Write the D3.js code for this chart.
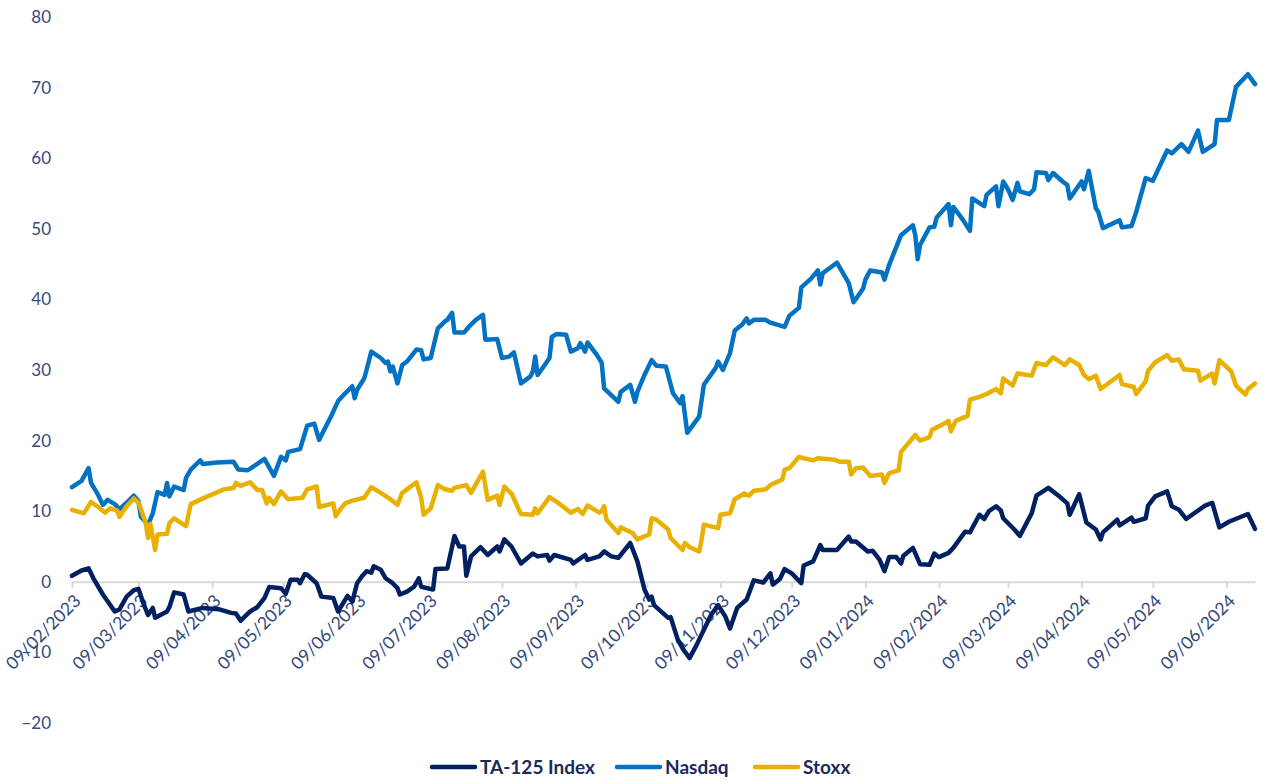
<!DOCTYPE html>
<html><head><meta charset="utf-8">
<script src="https://cdn.jsdelivr.net/npm/d3@7"></script>
<style>
body{margin:0;background:#fff}
svg{display:block}
text{font-family:Lato,"Noto Sans",sans-serif}
</style>
</head><body>
<svg id="chart" width="1262" height="780"></svg>
<script>
// ---------------- DATA ----------------
const seriesNames = ["TA-125 Index", "Nasdaq", "Stoxx"];

const xTickLabels = ["09/02/2023","09/03/2023","09/04/2023","09/05/2023","09/06/2023","09/07/2023",
  "09/08/2023","09/09/2023","09/10/2023","09/11/2023","09/12/2023","09/01/2024","09/02/2024",
  "09/03/2024","09/04/2024","09/05/2024","09/06/2024"];
const yTicks = [-20, -10, 0, 10, 20, 30, 40, 50, 60, 70, 80];

const taDates = ["2023-02-09","2023-02-13","2023-02-16","2023-02-18","2023-02-22","2023-02-27","2023-03-01","2023-03-04","2023-03-07","2023-03-09","2023-03-11","2023-03-13","2023-03-15","2023-03-16","2023-03-21","2023-03-22","2023-03-24","2023-03-28","2023-03-30","2023-04-05","2023-04-12","2023-04-17","2023-04-19","2023-04-21","2023-04-25","2023-04-28","2023-05-01","2023-05-03","2023-05-08","2023-05-10","2023-05-12","2023-05-15","2023-05-16","2023-05-18","2023-05-19","2023-05-23","2023-05-25","2023-05-30","2023-06-01","2023-06-05","2023-06-07","2023-06-09","2023-06-11","2023-06-13","2023-06-15","2023-06-16","2023-06-19","2023-06-21","2023-06-24","2023-06-26","2023-06-27","2023-06-30","2023-07-03","2023-07-05","2023-07-06","2023-07-11","2023-07-12","2023-07-17","2023-07-20","2023-07-22","2023-07-24","2023-07-25","2023-07-27","2023-07-31","2023-08-03","2023-08-07","2023-08-08","2023-08-10","2023-08-13","2023-08-17","2023-08-22","2023-08-24","2023-08-28","2023-08-29","2023-08-31","2023-09-07","2023-09-08","2023-09-13","2023-09-14","2023-09-19","2023-09-21","2023-09-24","2023-09-27","2023-10-02","2023-10-05","2023-10-08","2023-10-10","2023-10-11","2023-10-12","2023-10-18","2023-10-19","2023-10-22","2023-10-24","2023-10-25","2023-10-27","2023-10-30","2023-11-02","2023-11-05","2023-11-08","2023-11-11","2023-11-13","2023-11-16","2023-11-20","2023-11-23","2023-11-27","2023-11-30","2023-12-01","2023-12-04","2023-12-06","2023-12-09","2023-12-13","2023-12-14","2023-12-18","2023-12-21","2023-12-22","2023-12-28","2024-01-02","2024-01-03","2024-01-05","2024-01-10","2024-01-12","2024-01-15","2024-01-17","2024-01-19","2024-01-22","2024-01-24","2024-01-25","2024-01-29","2024-02-01","2024-02-05","2024-02-07","2024-02-09","2024-02-13","2024-02-15","2024-02-20","2024-02-22","2024-02-26","2024-02-28","2024-03-01","2024-03-04","2024-03-06","2024-03-07","2024-03-12","2024-03-14","2024-03-19","2024-03-21","2024-03-26","2024-03-31","2024-04-03","2024-04-04","2024-04-08","2024-04-11","2024-04-15","2024-04-17","2024-04-18","2024-04-24","2024-04-25","2024-04-30","2024-05-01","2024-05-06","2024-05-07","2024-05-10","2024-05-15","2024-05-17","2024-05-20","2024-05-23","2024-05-31","2024-06-03","2024-06-06","2024-06-10","2024-06-18","2024-06-21"];
const taValues = [0.85,1.6,1.9,0.5,-1.8,-4.2,-3.9,-2.1,-1.2,-1.0,-3.0,-4.7,-3.7,-5.1,-4.2,-3.6,-1.5,-1.8,-4.2,-3.7,-3.9,-4.4,-4.5,-5.5,-4.2,-3.6,-2.3,-0.75,-0.9,-1.7,0.3,0.3,-0.2,1.1,1.0,-0.2,-2.1,-2.3,-4.2,-2.0,-2.8,-0.2,0.75,1.5,1.3,2.2,1.7,0.5,-0.2,-0.9,-1.8,-1.4,-0.7,0.5,-0.7,-1.1,1.8,1.9,6.5,5.0,5.0,0.85,3.6,4.9,3.8,5.0,4.3,6.0,5.0,2.6,4.0,3.6,3.8,3.0,3.8,3.1,2.6,3.8,3.1,3.6,4.3,3.6,3.4,5.5,2.9,-1.1,-2.5,-2.1,-3.3,-5.1,-5.0,-8.2,-9.4,-9.9,-10.8,-8.9,-6.8,-4.7,-3.3,-4.9,-6.6,-3.7,-2.5,0.2,-0.1,1.2,-0.4,0.4,1.8,1.2,-0.2,2.3,2.9,5.2,4.5,4.5,6.4,5.7,5.7,4.3,4.4,3.1,1.5,3.5,3.5,2.6,3.7,4.8,2.5,2.4,4.0,3.5,4.1,4.8,7.1,7.0,9.5,8.9,10.0,10.7,10.1,9.0,7.3,6.5,9.7,12.2,13.3,12.0,11.1,9.5,12.4,8.4,7.4,6.0,7.0,8.8,8.0,9.1,8.5,9.0,10.8,12.1,12.8,10.7,10.2,8.9,10.8,11.2,7.7,8.5,9.6,7.5];

const nasdaqDates = ["2023-02-09","2023-02-13","2023-02-16","2023-02-17","2023-02-20","2023-02-22","2023-02-24","2023-02-27","2023-03-01","2023-03-04","2023-03-07","2023-03-09","2023-03-10","2023-03-13","2023-03-15","2023-03-17","2023-03-20","2023-03-21","2023-03-22","2023-03-24","2023-03-28","2023-03-29","2023-03-31","2023-04-04","2023-04-05","2023-04-11","2023-04-18","2023-04-20","2023-04-24","2023-04-28","2023-05-01","2023-05-05","2023-05-08","2023-05-10","2023-05-11","2023-05-16","2023-05-19","2023-05-22","2023-05-24","2023-05-29","2023-06-01","2023-06-04","2023-06-07","2023-06-08","2023-06-09","2023-06-12","2023-06-13","2023-06-15","2023-06-19","2023-06-21","2023-06-22","2023-06-23","2023-06-24","2023-06-26","2023-06-28","2023-06-30","2023-07-04","2023-07-06","2023-07-07","2023-07-10","2023-07-13","2023-07-16","2023-07-17","2023-07-19","2023-07-20","2023-07-24","2023-07-26","2023-07-29","2023-08-01","2023-08-02","2023-08-07","2023-08-09","2023-08-12","2023-08-14","2023-08-17","2023-08-21","2023-08-22","2023-08-23","2023-08-24","2023-08-27","2023-08-29","2023-08-30","2023-09-01","2023-09-05","2023-09-07","2023-09-10","2023-09-11","2023-09-13","2023-09-14","2023-09-18","2023-09-20","2023-09-21","2023-09-27","2023-09-28","2023-10-02","2023-10-04","2023-10-05","2023-10-08","2023-10-11","2023-10-13","2023-10-17","2023-10-20","2023-10-23","2023-10-24","2023-10-26","2023-10-31","2023-11-02","2023-11-07","2023-11-08","2023-11-10","2023-11-13","2023-11-15","2023-11-18","2023-11-20","2023-11-21","2023-11-23","2023-11-28","2023-11-30","2023-12-06","2023-12-08","2023-12-12","2023-12-13","2023-12-17","2023-12-20","2023-12-21","2023-12-22","2023-12-28","2024-01-02","2024-01-04","2024-01-08","2024-01-09","2024-01-11","2024-01-16","2024-01-17","2024-01-19","2024-01-24","2024-01-29","2024-01-30","2024-01-31","2024-02-01","2024-02-05","2024-02-07","2024-02-08","2024-02-13","2024-02-14","2024-02-15","2024-02-19","2024-02-22","2024-02-23","2024-02-28","2024-02-29","2024-03-04","2024-03-05","2024-03-07","2024-03-09","2024-03-11","2024-03-13","2024-03-14","2024-03-18","2024-03-20","2024-03-21","2024-03-25","2024-03-26","2024-03-28","2024-04-01","2024-04-03","2024-04-04","2024-04-09","2024-04-10","2024-04-12","2024-04-15","2024-04-16","2024-04-18","2024-04-25","2024-04-26","2024-04-30","2024-05-02","2024-05-06","2024-05-09","2024-05-15","2024-05-17","2024-05-21","2024-05-24","2024-05-28","2024-05-30","2024-06-04","2024-06-05","2024-06-10","2024-06-13","2024-06-18","2024-06-21"];
const nasdaqValues = [13.4,14.3,16.1,14.0,12.3,10.9,11.6,11.0,10.3,11.2,12.2,11.4,9.2,8.1,9.7,12.7,12.3,14.0,12.1,13.5,13.0,14.7,15.9,17.2,16.7,16.9,17.0,15.9,15.8,16.7,17.4,15.0,17.7,17.2,18.4,18.8,22.1,22.4,20.1,23.4,25.6,26.7,27.7,26.0,27.2,28.8,30.0,32.6,31.7,31.0,31.2,29.8,30.5,28.1,30.7,31.2,32.9,32.8,31.5,31.7,35.9,36.9,37.1,38.1,35.3,35.3,36.1,37.1,37.8,34.3,34.4,31.7,31.9,32.5,28.1,29.1,29.8,31.9,29.3,30.7,31.7,34.7,35.1,35.0,32.6,33.1,33.8,32.6,33.9,32.1,31.0,27.4,25.5,26.9,27.9,25.5,26.9,29.3,31.4,30.6,30.5,26.7,25.3,26.3,21.1,23.4,27.9,30.3,31.2,30.0,32.4,35.6,36.4,37.3,36.6,37.1,37.1,36.7,36.1,37.7,38.8,41.7,42.9,44.1,42.1,43.7,45.2,42.3,39.6,41.5,42.8,44.1,43.8,42.8,44.9,49.1,50.5,49.1,45.7,47.7,50.2,50.3,51.6,53.5,50.5,53.1,51.3,49.7,54.3,53.2,54.8,56.0,53.2,56.7,55.6,54.1,56.5,55.3,54.9,55.6,58.0,57.9,56.9,57.9,56.7,56.2,54.3,56.7,55.6,58.2,52.9,52.4,50.1,51.2,50.2,50.4,52.4,57.2,56.8,61.1,60.7,62.0,60.9,63.9,60.9,62.0,65.4,65.4,70.1,71.9,70.5];

const stoxxDates = ["2023-02-09","2023-02-14","2023-02-17","2023-02-20","2023-02-23","2023-02-25","2023-02-28","2023-03-01","2023-03-04","2023-03-07","2023-03-09","2023-03-12","2023-03-13","2023-03-14","2023-03-16","2023-03-17","2023-03-21","2023-03-22","2023-03-24","2023-03-29","2023-03-31","2023-04-07","2023-04-14","2023-04-18","2023-04-19","2023-04-21","2023-04-25","2023-04-28","2023-04-30","2023-05-02","2023-05-03","2023-05-05","2023-05-08","2023-05-11","2023-05-17","2023-05-19","2023-05-23","2023-05-24","2023-05-30","2023-05-31","2023-06-02","2023-06-04","2023-06-07","2023-06-12","2023-06-15","2023-06-19","2023-06-23","2023-06-26","2023-06-28","2023-07-04","2023-07-06","2023-07-07","2023-07-10","2023-07-13","2023-07-16","2023-07-19","2023-07-20","2023-07-25","2023-07-27","2023-08-01","2023-08-03","2023-08-07","2023-08-08","2023-08-10","2023-08-13","2023-08-17","2023-08-22","2023-08-23","2023-08-24","2023-08-29","2023-09-02","2023-09-07","2023-09-10","2023-09-12","2023-09-14","2023-09-19","2023-09-20","2023-09-21","2023-09-22","2023-09-27","2023-09-28","2023-10-03","2023-10-05","2023-10-10","2023-10-11","2023-10-13","2023-10-18","2023-10-19","2023-10-24","2023-10-25","2023-10-27","2023-10-31","2023-11-01","2023-11-02","2023-11-08","2023-11-09","2023-11-13","2023-11-15","2023-11-19","2023-11-21","2023-11-23","2023-11-28","2023-11-30","2023-12-05","2023-12-06","2023-12-08","2023-12-12","2023-12-14","2023-12-18","2023-12-20","2023-12-27","2023-12-29","2024-01-02","2024-01-03","2024-01-05","2024-01-08","2024-01-11","2024-01-16","2024-01-17","2024-01-19","2024-01-23","2024-01-24","2024-01-30","2024-02-01","2024-02-05","2024-02-06","2024-02-10","2024-02-13","2024-02-14","2024-02-16","2024-02-21","2024-02-22","2024-02-26","2024-02-29","2024-03-04","2024-03-06","2024-03-07","2024-03-11","2024-03-13","2024-03-19","2024-03-21","2024-03-25","2024-03-28","2024-04-02","2024-04-04","2024-04-08","2024-04-10","2024-04-12","2024-04-15","2024-04-17","2024-04-25","2024-04-26","2024-05-01","2024-05-02","2024-05-06","2024-05-07","2024-05-10","2024-05-15","2024-05-17","2024-05-20","2024-05-22","2024-05-28","2024-05-29","2024-06-03","2024-06-04","2024-06-06","2024-06-11","2024-06-13","2024-06-17","2024-06-18","2024-06-21"];
const stoxxValues = [10.2,9.7,11.3,10.6,9.8,10.4,10.1,9.2,10.7,11.8,11.2,8.4,6.2,8.2,4.5,6.7,6.8,8.3,9.0,7.9,11.0,12.1,13.1,13.3,14.0,13.6,14.1,13.0,13.0,11.1,11.9,11.0,12.8,11.7,11.9,13.1,13.5,10.6,11.1,9.3,10.3,11.1,11.5,11.9,13.4,12.6,11.7,10.9,12.6,14.1,11.9,9.5,10.4,13.7,13.1,12.9,13.3,13.7,12.6,15.6,11.6,12.2,10.9,13.5,12.5,9.6,9.5,10.4,9.7,12.0,11.1,9.8,10.3,9.6,10.8,9.8,10.0,10.7,8.8,6.9,7.7,6.9,6.0,6.7,9.0,8.8,7.4,6.2,4.5,5.5,4.9,4.3,5.9,8.1,7.6,9.5,9.7,11.7,12.5,12.2,12.9,13.1,13.7,14.5,15.9,16.1,17.7,17.5,17.2,17.5,17.3,17.0,17.0,15.2,16.1,16.2,15.0,15.2,14.0,15.4,15.8,18.4,20.8,20.0,20.5,21.5,22.2,22.8,21.3,22.8,23.5,25.8,26.2,26.6,27.3,26.7,28.8,27.8,29.5,29.2,31.0,30.7,31.8,30.7,31.5,30.7,29.3,28.7,29.2,27.3,29.3,28.0,27.6,26.6,28.4,29.9,31.1,32.1,31.3,31.5,30.1,29.9,28.5,29.5,28.1,31.4,29.8,27.8,26.5,27.3,28.1];

// ---------------- SETUP ----------------
const svg = d3.select("#chart");
const parseISO = d3.timeParse("%Y-%m-%d");
const parseTick = d3.timeParse("%d/%m/%Y");

const series = [
  {name: seriesNames[0], dates: taDates, values: taValues, color: "#002060"},
  {name: seriesNames[1], dates: nasdaqDates, values: nasdaqValues, color: "#0472c2"},
  {name: seriesNames[2], dates: stoxxDates, values: stoxxValues, color: "#e8b000"}
].map(s => ({...s, points: s.dates.map((d, i) => ({date: parseISO(d), value: s.values[i]}))}));

const tickDates = xTickLabels.map(parseTick);
const xStart = tickDates[0];
const xEnd = series[0].points[series[0].points.length - 1].date;

const x = d3.scaleTime().domain([xStart, xEnd]).range([72, 1255]);
const y = d3.scaleLinear().domain([-20, 80]).range([723, 17]);

const tickColor = "#34497c";
const fontStack = "Lato, 'Noto Sans', sans-serif";

// Y axis labels
const yAxis = d3.axisLeft(y).tickValues(yTicks).tickSize(0).tickPadding(21).tickFormat(d3.format("d"));
const gy = svg.append("g").attr("transform", "translate(72,0)").call(yAxis);
gy.select(".domain").remove();
gy.selectAll("text").attr("fill", tickColor).style("font-size", "17px").style("font-family", fontStack);

// X axis on the zero line
const fmt = d3.timeFormat("%d/%m/%Y");
const xAxis = d3.axisBottom(x).tickValues(tickDates).tickFormat(fmt).tickSize(6).tickSizeOuter(0);
const gx = svg.append("g").attr("transform", `translate(0,${y(0)})`).call(xAxis);
gx.select(".domain").attr("stroke", "#d9d9d9").attr("stroke-width", 2);
gx.selectAll(".tick line").attr("stroke", "#d9d9d9").attr("stroke-width", 2);
gx.selectAll(".tick text")
  .attr("fill", tickColor)
  .attr("x", 0).attr("y", 0).attr("dy", "0.35em")
  .attr("text-anchor", "end")
  .attr("transform", "translate(5,16) rotate(-45)")
  .style("font-size", "17.5px")
  .style("font-family", fontStack);

// Lines
const line = d3.line().x(d => x(d.date)).y(d => y(d.value));
svg.append("g").selectAll("path").data(series).join("path")
  .attr("d", d => line(d.points))
  .attr("fill", "none")
  .attr("stroke", d => d.color)
  .attr("stroke-width", 4.5)
  .attr("stroke-linejoin", "round")
  .attr("stroke-linecap", "round");

// Legend
const legendX = [432, 617, 755];
const lg = svg.append("g").selectAll("g").data(series).join("g")
  .attr("transform", (d, i) => `translate(${legendX[i]},767)`);
lg.append("line").attr("x1", 0).attr("x2", 43).attr("y1", 0).attr("y2", 0)
  .attr("stroke", d => d.color).attr("stroke-width", 4.5).attr("stroke-linecap", "round");
lg.append("text").attr("x", 48).attr("y", 0).attr("dy", "0.35em")
  .attr("fill", "#1b2a5c").style("font-size", "19px").style("font-weight", "bold")
  .style("font-family", fontStack)
  .text(d => d.name);
</script>
</body></html>
